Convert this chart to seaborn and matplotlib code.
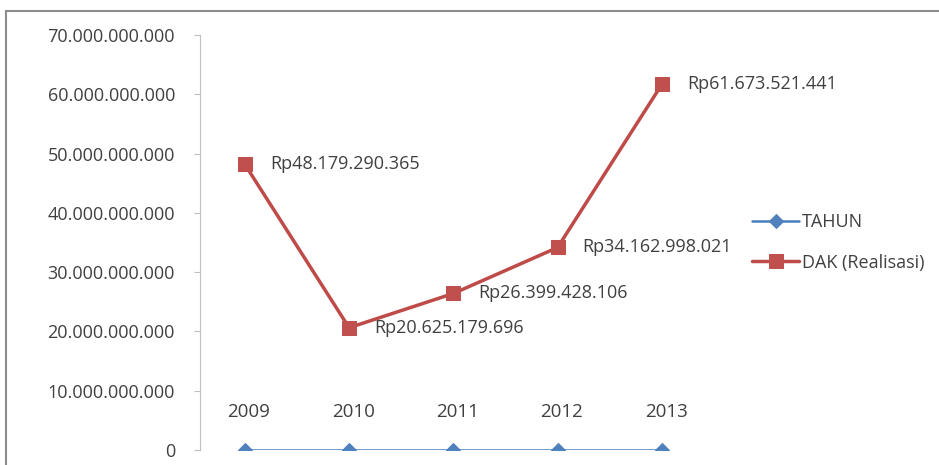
import matplotlib
matplotlib.use("Agg")
import matplotlib.pyplot as plt
import seaborn as sns
import pandas as pd
from matplotlib.patches import Rectangle

years = ["2009", "2010", "2011", "2012", "2013"]
tahun = [2009, 2010, 2011, 2012, 2013]
dak = [48179290365, 20625179696, 26399428106, 34162998021, 61673521441]
dak_labels = ["Rp48.179.290.365", "Rp20.625.179.696", "Rp26.399.428.106",
              "Rp34.162.998.021", "Rp61.673.521.441"]
yticks = [0, 10e9, 20e9, 30e9, 40e9, 50e9, 60e9, 70e9]

sns.set_style("white")
plt.rcParams['font.family'] = ['Open Sans', 'DejaVu Sans']

fig = plt.figure(figsize=(9.39, 4.65), dpi=100)
fig.patch.set_facecolor("white")
fig.patches.append(Rectangle((6/939, -0.01), 940/939, 459/465, transform=fig.transFigure,
                             fill=False, edgecolor="#8c8c8c", linewidth=1.5))

W, H = 939, 465
left, right = 200, 714
ax = fig.add_axes([left / W, 15 / H, (right - left) / W, 415 / H])

df = pd.DataFrame({"Tahun": years * 2,
                   "value": tahun + dak,
                   "series": ["TAHUN"] * 5 + ["DAK (Realisasi)"] * 5})

blue = "#4A7EBB"
red = "#BE4B48"
sns.lineplot(data=df[df.series == "TAHUN"], x="Tahun", y="value", ax=ax,
             color=blue, marker="D", markersize=7, linewidth=1.8,
             markerfacecolor="#4F81BD", markeredgecolor="#4F81BD", label="TAHUN")
sns.lineplot(data=df[df.series == "DAK (Realisasi)"], x="Tahun", y="value", ax=ax,
             color=red, marker="s", markersize=10, linewidth=2.5,
             markerfacecolor="#C0504D", markeredgecolor="#C0504D", label="DAK (Realisasi)")

ax.set_ylim(0, 70e9)
ax.set_xlim(-0.43, 4.5)
ax.set_yticks(yticks)
ax.set_yticklabels([f"{int(v):,}".replace(",", ".") for v in yticks],
                   fontsize=13, color="#404040")
ax.set_xticks([])
ax.set_xlabel("")
ax.set_ylabel("")
for s in ["top", "right", "bottom"]:
    ax.spines[s].set_visible(False)
ax.spines["left"].set_color("#bfbfbf")
ax.tick_params(axis="y", left=True, length=4, color="#bfbfbf", pad=14)

for i, (v, lab) in enumerate(zip(dak, dak_labels)):
    ax.annotate(lab, (i, v), xytext=(18, 0), textcoords="offset points",
                va="center", ha="left", fontsize=13, color="#404040")
for i, (v, lab) in enumerate(zip(tahun, years)):
    ax.annotate(lab, (i, v), xytext=(3, 27), textcoords="offset points",
                va="center", ha="center", fontsize=13.5, color="#404040")

leg = ax.legend(loc="center left", bbox_to_anchor=((743 - left) / (right - left), 0.5),
                frameon=False, fontsize=13, handlelength=2.6, labelspacing=1.25,
                handletextpad=0.15, borderpad=0)
for t in leg.get_texts():
    t.set_color("#404040")

fig.savefig("out.png", dpi=100)
